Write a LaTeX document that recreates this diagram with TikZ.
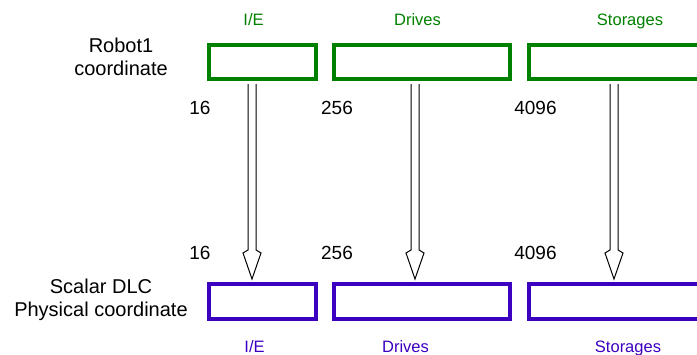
\documentclass[tikz,border=0pt]{standalone}
\usepackage{fontspec}
\setmainfont{Liberation Sans}
\usetikzlibrary{positioning,calc}
\definecolor{robotgreen}{HTML}{008000}
\definecolor{dlcblue}{HTML}{3C00C0}

\begin{document}
\begin{tikzpicture}[x=1pt, y=-1pt,
    area/.style={draw, line width=4pt, minimum height=34pt, inner sep=0pt},
    big/.style={font=\fontsize{20}{23}\selectfont, align=center, inner sep=0pt},
    tag/.style={font=\fontsize{16.5}{19}\selectfont, inner sep=0pt, anchor=base},
    num/.style={font=\fontsize{19}{23}\selectfont, inner sep=0pt},
    move/.style={line width=1pt, to path={
        ($(\tikztostart)+(-4,3)$) -- ($(\tikztotarget)+(-4,-29)$)
        -- ($(\tikztotarget)+(-9,-26)$) -- (\tikztotarget)
        -- ($(\tikztotarget)+(9,-26)$) -- ($(\tikztotarget)+(4,-29)$)
        -- ($(\tikztostart)+(4,3)$)}}]
  \useasboundingbox (0,0) rectangle (697,354);
  \clip (0,0) rectangle (697,354);
  % robot side
  \node[area, draw=robotgreen, minimum width=107pt] (r1) at (262.5,62) {};
  \node[area, draw=robotgreen, minimum width=176pt, right=14pt of r1] (r2) {};
  \node[area, draw=robotgreen, minimum width=200pt, right=15pt of r2] (r3) {};
  % DLC side
  \node[area, draw=dlcblue, minimum width=107pt, minimum height=35pt, below=201pt of r1] (d1) {};
  \node[area, draw=dlcblue, minimum width=176pt, minimum height=35pt, right=14pt of d1] (d2) {};
  \node[area, draw=dlcblue, minimum width=200pt, minimum height=35pt, right=15pt of d2] (d3) {};

  \node[tag, text=robotgreen] (rie) at (253.5,25) {I/E};
  \node[tag, text=robotgreen] (rdr) at (417.5,25) {Drives};
  \node[tag, text=robotgreen] (rst) at (630,25) {Storages};
  \node[tag, text=dlcblue] (die) at (254.5,352) {I/E};
  \node[tag, text=dlcblue] (ddr) at (405.5,352) {Drives};
  \node[tag, text=dlcblue] (dst) at (628,352) {Storages};

  \node[big] (rname) at (121,56.5) {Robot1\\coordinate};
  \node[big] (dname) at (101,299.5) {Scalar DLC\\Physical coordinate};

  \node[num] (n1t) at (200,107.5) {16};
  \node[num] (n2t) at (337,107.5) {256};
  \node[num] (n3t) at (535.5,107.5) {4096};
  \node[num] (n1b) at (200,253) {16};
  \node[num] (n2b) at (337,253) {256};
  \node[num] (n3b) at (535.5,253) {4096};

  \draw[move] ([xshift=-10.5pt]r1.south) to ([xshift=-10.5pt,yshift=3pt]d1.north);
  \draw[move] ([xshift=-7pt]r2.south) to ([xshift=-7pt,yshift=3pt]d2.north);
  \draw[move] ([xshift=-15pt]r3.south) to ([xshift=-15pt,yshift=3pt]d3.north);
\end{tikzpicture}
\end{document}
